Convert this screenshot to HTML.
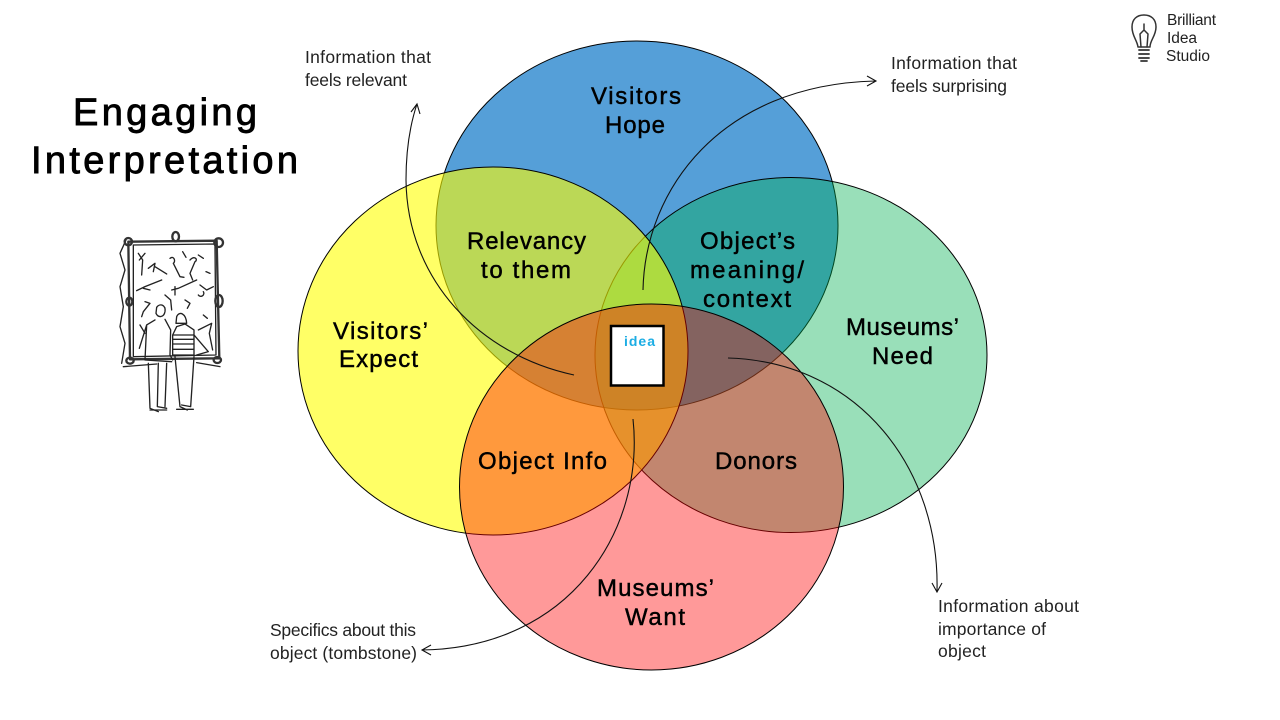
<!DOCTYPE html>
<html><head><meta charset="utf-8"><title>Engaging Interpretation</title>
<style>
html,body{margin:0;padding:0;background:#fff}
svg{display:block}
text{font-family:"Liberation Sans",sans-serif;fill:#000}
.l{font-size:24px;stroke:#000;stroke-width:.45px}
.t{font-size:38px;stroke:#000;stroke-width:.9px}
.a{font-size:17.5px;fill:#222}
.s{font-size:15.5px;fill:#222}
.w{fill:none;stroke:#111;stroke-width:1.1}
.d{fill:none;stroke:#222;stroke-width:4;stroke-linecap:round;stroke-linejoin:round}
.f{stroke-width:7;stroke:#333}
</style></head><body>
<svg width="1280" height="720" viewBox="0 0 1280 720" xmlns="http://www.w3.org/2000/svg">
<rect width="1280" height="720" fill="#fff"/>

<ellipse cx="637" cy="225.500" rx="201" ry="184.500" fill="#559FD8" stroke="#000" stroke-width="1"/>
<ellipse cx="791" cy="355" rx="196" ry="177.500" fill="#00B050" fill-opacity=".4" stroke="#000" stroke-width="1"/>
<ellipse cx="493" cy="351" rx="195" ry="184" fill="#FFFF00" fill-opacity=".6" stroke="#000" stroke-width="1"/>
<ellipse cx="651.500" cy="487" rx="192" ry="183" fill="#FF0000" fill-opacity=".4" stroke="#000" stroke-width="1"/>

<rect x="611" y="326" width="52.500" height="59.500" fill="#fff" stroke="#000" stroke-width="2.500"/>
<text x="624" y="346" textLength="31" font-size="14" style="fill:#1CADE4;font-weight:bold">idea</text>

<path class="w" d="M574 375C480 355 407 280 406 180C406 150 410 125 417 104M411 112L417 104L420 114"/>
<path class="w" d="M643 290C645 190 720 85 875 81M867 76L876 81L867 86"/>
<path class="w" d="M728 358C860 362 940 470 937 591M932 583L937 592L942 583"/>
<path class="w" d="M633 419C645 530 570 648 422 650M431 645L422 650L431 655"/>

<text class="t" x="73" y="125" textLength="184">Engaging</text>
<text class="t" x="31" y="173" textLength="267">Interpretation</text>

<text class="l" x="591" y="104" textLength="90">Visitors</text>
<text class="l" x="605" y="133" textLength="60">Hope</text>
<text class="l" x="467" y="249" textLength="119">Relevancy</text>
<text class="l" x="481" y="278" textLength="90">to them</text>
<text class="l" x="700" y="249" textLength="95">Object’s</text>
<text class="l" x="690" y="278" textLength="114">meaning/</text>
<text class="l" x="703" y="307" textLength="88">context</text>
<text class="l" x="333" y="339" textLength="95">Visitors’</text>
<text class="l" x="339" y="367" textLength="79">Expect</text>
<text class="l" x="846" y="335" textLength="113">Museums’</text>
<text class="l" x="872" y="364" textLength="61">Need</text>
<text class="l" x="478" y="469" textLength="129">Object Info</text>
<text class="l" x="715" y="469" textLength="82">Donors</text>
<text class="l" x="597" y="596" textLength="117">Museums’</text>
<text class="l" x="625" y="625" textLength="60">Want</text>

<text class="a" x="305" y="63" textLength="126">Information that</text>
<text class="a" x="305" y="86" textLength="102">feels relevant</text>
<text class="a" x="891" y="69" textLength="126">Information that</text>
<text class="a" x="891" y="92" textLength="116">feels surprising</text>
<text class="a" x="938" y="612" textLength="141">Information about</text>
<text class="a" x="938" y="635" textLength="108">importance of</text>
<text class="a" x="938" y="657" textLength="48">object</text>
<text class="a" x="270" y="636" textLength="146">Specifics about this</text>
<text class="a" x="270" y="659" textLength="147">object (tombstone)</text>

<text class="s" x="1167" y="25" textLength="49">Brilliant</text>
<text class="s" x="1167" y="43" textLength="30">Idea</text>
<text class="s" x="1166" y="61" textLength="44">Studio</text>

<g fill="none" stroke="#333" stroke-width="1.500" stroke-linecap="round" stroke-linejoin="round">
<path d="M1138 47C1137 40 1132 36 1132 27C1132 19 1137 15 1144 15C1151 15 1156 19 1156 27C1156 36 1150 40 1150 47Z"/>
<path d="M1141 47L1140 34L1144 30L1148 34L1147 47M1144 30V24"/>
<path d="M1139 50H1149M1139 54H1149M1139 58H1149M1141 61H1147" stroke-width="1.800"/>
</g>

<g transform="translate(100 220) scale(.3333)">
<path class="d f" d="M85 65L350 62L358 415L90 418Z"/>
<path class="d" d="M100 75L345 72L348 405L100 410Z"/>
<path class="d" d="M78 60L60 100L75 150L60 200L70 260L60 320L75 370L65 430M70 440L170 432M290 428L360 440"/>
<ellipse class="d f" cx="227" cy="50" rx="10" ry="14"/><ellipse class="d f" cx="356" cy="68" rx="13" ry="13"/>
<ellipse class="d f" cx="85" cy="65" rx="11" ry="11"/><ellipse class="d f" cx="357" cy="243" rx="11" ry="18"/>
<ellipse class="d f" cx="88" cy="245" rx="9" ry="12"/><ellipse class="d f" cx="352" cy="420" rx="11" ry="9"/><ellipse class="d f" cx="90" cy="422" rx="11" ry="9"/>
<path class="d" d="M115 100L128 120L125 165M118 120L135 100M145 145L165 130L160 155M165 140L200 162M210 115C222 105 228 125 220 130L240 170L252 172M248 95L258 112M270 120C285 105 295 120 285 125L270 160L278 180M295 105L310 115M318 155L330 160M110 212L135 200L185 180M130 205L150 210M215 210L235 205L290 180M225 200V225M300 195L320 210L340 200M295 225A9 9 0 1 0 310 215M135 245L150 250L130 275L125 290M255 240L270 250L262 265M120 315L135 340M195 225L212 240L215 270M310 285L322 295M295 330L335 310L328 340L338 390"/>
<path class="d" d="M170 262C180 248 198 255 195 275C192 292 175 295 168 280Z" fill="#555"/>
<path class="d" d="M165 300L140 315L118 385M195 298L212 330L210 405L218 420M140 315L135 420L215 425M145 430L150 565L175 575M175 430L172 560L200 565M200 430L195 560"/>
<path class="d" d="M230 290C238 272 258 280 260 310L228 310Z" fill="#444"/>
<path class="d" d="M230 320L218 345L218 405H282V330L255 312ZM220 345H280M219 358H280M219 372H280M219 388H280M282 345L325 395L290 405M225 410L240 560L262 570M282 410L272 560L245 555M150 570H200M230 568H280"/>
</g>
</svg>
</body></html>
